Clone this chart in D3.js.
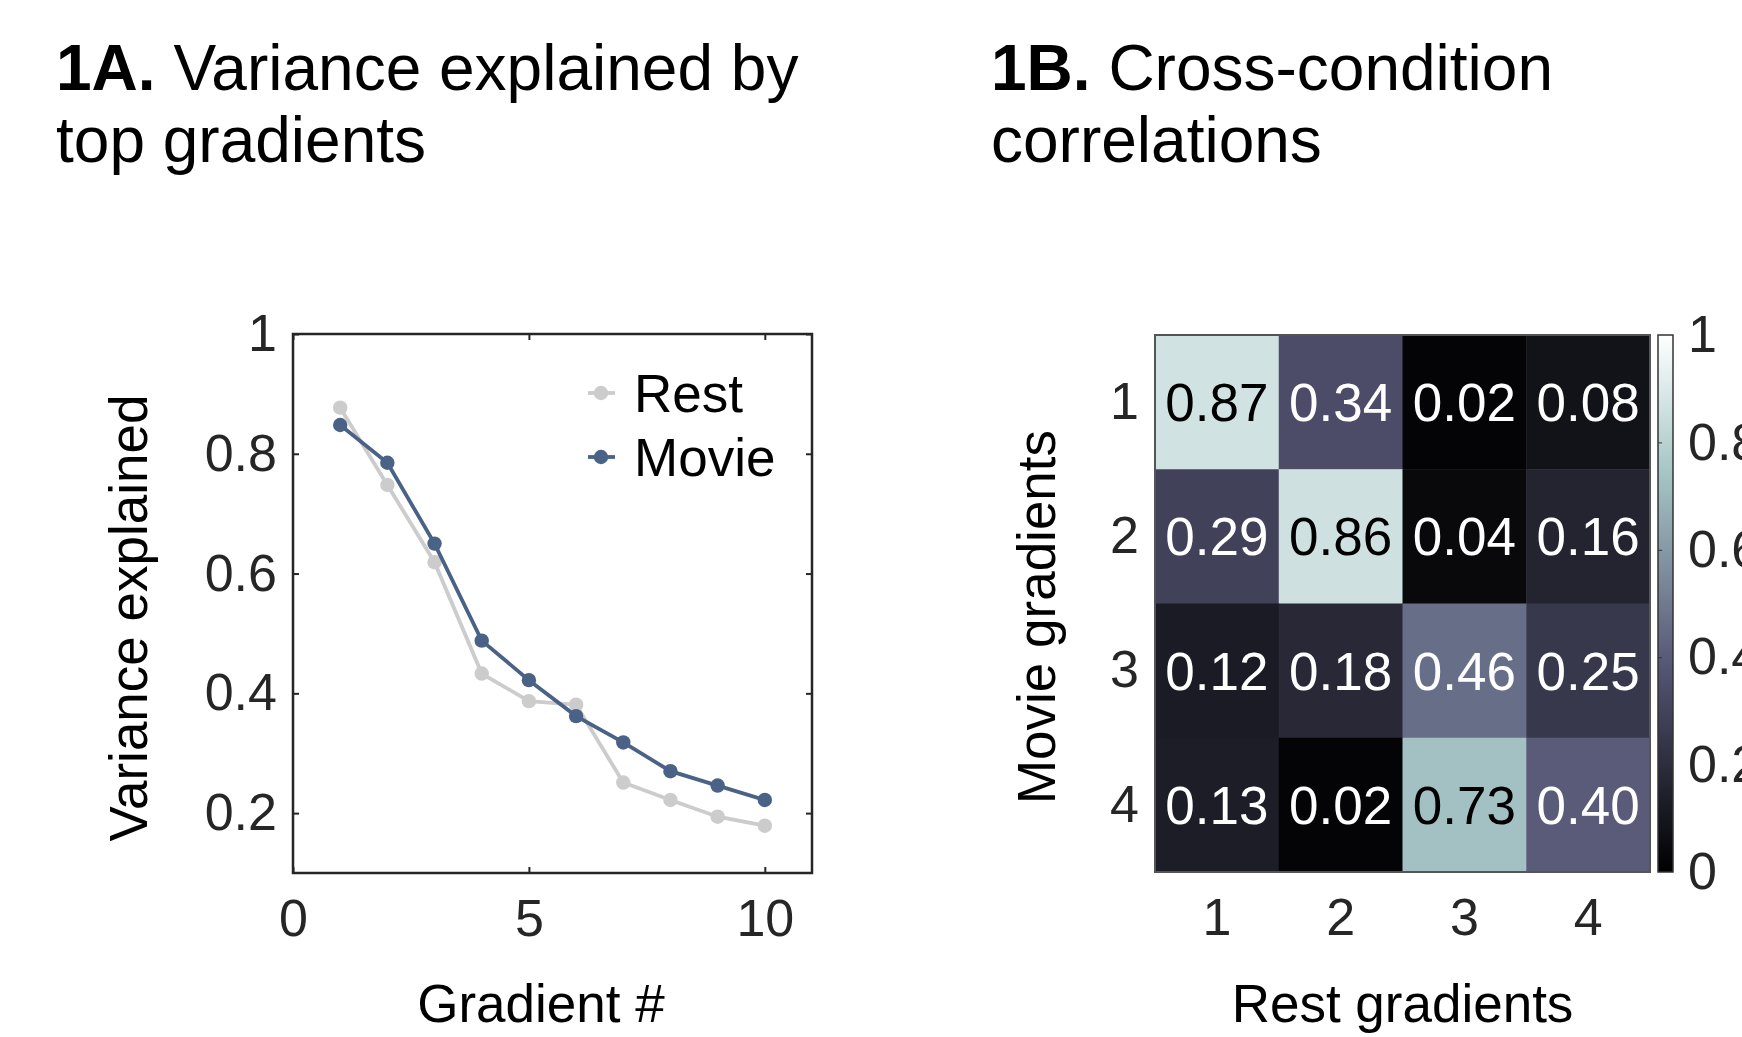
<!DOCTYPE html>
<html>
<head>
<meta charset="utf-8">
<script src="https://cdn.jsdelivr.net/npm/d3@7"></script>
<style>
  body { margin: 0; background: #fff; }
  svg { display: block; font-family: "Liberation Sans", Arial, sans-serif; }
  .tick text { fill: #262626; }
</style>
</head>
<body>
<svg width="1742" height="1037"></svg>
<script>
// panel A data
const gradients = [1, 2, 3, 4, 5, 6, 7, 8, 9, 10]
const restVar = [0.877, 0.748, 0.619, 0.433, 0.387, 0.381, 0.251, 0.222, 0.194, 0.179]
const movieVar = [0.848, 0.785, 0.650, 0.488, 0.422, 0.362, 0.318, 0.270, 0.246, 0.222]
const xTicks = [0, 5, 10]
const yTicks = [0.2, 0.4, 0.6, 0.8, 1]

// panel B data (rows = movie gradients, cols = rest gradients)
const restLabels = ["1", "2", "3", "4"]
const movieLabels = ["1", "2", "3", "4"]
const corr = [
  [0.87, 0.34, 0.02, 0.08],
  [0.29, 0.86, 0.04, 0.16],
  [0.12, 0.18, 0.46, 0.25],
  [0.13, 0.02, 0.73, 0.40]
]
const cbarTicks = [0, 0.2, 0.4, 0.6, 0.8, 1]

const svg = d3.select("svg")
const axisColor = "#262626"

// matlab bone colormap
function bone(t) {
  const hr = Math.min(1, t * 8 / 3),
        hg = Math.max(0, Math.min(1, (t - 3 / 8) * 8 / 3)),
        hb = Math.max(0, Math.min(1, (t - 6 / 8) * 4))
  return d3.rgb(255 * (7 * t + hb) / 8, 255 * (7 * t + hg) / 8, 255 * (7 * t + hr) / 8).formatHex()
}

// titles
function title(x, bold, lines) {
  const t = svg.append("text").attr("x", x).attr("y", 90).style("font-size", "64px").style("fill", "#000")
  t.append("tspan").style("font-weight", "bold").text(bold)
  t.append("tspan").text(" " + lines[0])
  t.append("tspan").attr("x", x).attr("y", 162).text(lines[1])
}
title(56, "1A.", ["Variance explained by", "top gradients"])
title(991, "1B.", ["Cross-condition", "correlations"])

// ---------- panel A ----------
const a = {left: 293, right: 812, top: 334, bottom: 873}
const x = d3.scaleLinear().domain([0, 11]).range([a.left, a.right])
const y = d3.scaleLinear().domain([0.1, 1]).range([a.bottom, a.top])

const gA = svg.append("g")

function styleAxis(sel) {
  sel.select(".domain").remove()
  sel.selectAll(".tick line").attr("stroke", axisColor).attr("stroke-width", 2)
  sel.selectAll(".tick text").style("font-size", "52px")
}

gA.append("g").attr("transform", "translate(0," + a.bottom + ")")
  .call(d3.axisBottom(x).tickValues(xTicks).tickSize(-6).tickPadding(26).tickFormat(d3.format("")))
  .call(styleAxis)
gA.append("g").attr("transform", "translate(0," + a.top + ")")
  .call(d3.axisTop(x).tickValues(xTicks).tickSize(-6).tickFormat(""))
  .call(styleAxis)
gA.append("g").attr("transform", "translate(" + a.left + ",0)")
  .call(d3.axisLeft(y).tickValues(yTicks).tickSize(-6).tickPadding(16).tickFormat(d => d === 1 ? "1" : d3.format(".1f")(d)))
  .call(styleAxis)
gA.append("g").attr("transform", "translate(" + a.right + ",0)")
  .call(d3.axisRight(y).tickValues(yTicks).tickSize(-6).tickFormat(""))
  .call(styleAxis)

gA.append("rect")
  .attr("x", a.left).attr("y", a.top)
  .attr("width", a.right - a.left).attr("height", a.bottom - a.top)
  .attr("fill", "none").attr("stroke", axisColor).attr("stroke-width", 2.5)

const series = [
  {name: "Rest", values: restVar, color: "#cccccc"},
  {name: "Movie", values: movieVar, color: "#4a6285"}
]

const line = d3.line().x((d, i) => x(gradients[i])).y(d => y(d))

series.forEach(function (s) {
  gA.append("path").attr("d", line(s.values))
    .attr("fill", "none").attr("stroke", s.color).attr("stroke-width", 3.8)
  gA.selectAll(null).data(s.values).enter().append("circle")
    .attr("cx", (d, i) => x(gradients[i])).attr("cy", d => y(d))
    .attr("r", 7.2).attr("fill", s.color)
})

// legend
series.forEach(function (s, i) {
  const ly = 393 + i * 64
  gA.append("line").attr("x1", 588).attr("x2", 615).attr("y1", ly).attr("y2", ly)
    .attr("stroke", s.color).attr("stroke-width", 3.8)
  gA.append("circle").attr("cx", 601).attr("cy", ly).attr("r", 7.2).attr("fill", s.color)
  gA.append("text").attr("x", 634).attr("y", ly).attr("dy", "0.35em")
    .style("font-size", "53px").style("fill", "#000").text(s.name)
})

gA.append("text").attr("x", 541).attr("y", 1022).attr("text-anchor", "middle")
  .style("font-size", "53px").style("fill", "#000").text("Gradient #")
gA.append("text").attr("transform", "translate(147,618) rotate(-90)").attr("text-anchor", "middle")
  .style("font-size", "53px").style("fill", "#000").text("Variance explained")

// ---------- panel B ----------
const b = {left: 1155, right: 1650, top: 335, bottom: 872}
const bx = d3.scaleBand().domain(restLabels).range([b.left, b.right])
const by = d3.scaleBand().domain(movieLabels).range([b.top, b.bottom])
const color = d3.scaleSequential(bone).domain([0, 1])

const gB = svg.append("g")

const cells = []
corr.forEach((row, i) => row.forEach((v, j) => cells.push({r: movieLabels[i], c: restLabels[j], v: v})))

gB.selectAll(".cell").data(cells).enter().append("rect")
  .attr("class", "cell")
  .attr("x", d => bx(d.c)).attr("y", d => by(d.r))
  .attr("width", bx.bandwidth() + 0.5).attr("height", by.bandwidth() + 0.5)
  .attr("fill", d => color(d.v))

gB.selectAll(".val").data(cells).enter().append("text")
  .attr("class", "val")
  .attr("x", d => bx(d.c) + bx.bandwidth() / 2)
  .attr("y", d => by(d.r) + by.bandwidth() / 2)
  .attr("dy", "0.36em").attr("text-anchor", "middle")
  .style("font-size", "53px")
  .style("fill", d => d.v > 0.6 ? "#000" : "#fff")
  .text(d => d3.format(".2f")(d.v))

gB.append("rect")
  .attr("x", b.left).attr("y", b.top)
  .attr("width", b.right - b.left).attr("height", b.bottom - b.top)
  .attr("fill", "none").attr("stroke", "#555").attr("stroke-width", 2)

gB.append("g").attr("transform", "translate(0," + b.bottom + ")")
  .call(d3.axisBottom(bx).tickSize(0).tickPadding(26))
  .call(styleAxis)
gB.append("g").attr("transform", "translate(" + b.left + ",0)")
  .call(d3.axisLeft(by).tickSize(0).tickPadding(16))
  .call(styleAxis)

gB.append("text").attr("x", (b.left + b.right) / 2).attr("y", 1022).attr("text-anchor", "middle")
  .style("font-size", "53px").style("fill", "#000").text("Rest gradients")
gB.append("text").attr("transform", "translate(1055,617) rotate(-90)").attr("text-anchor", "middle")
  .style("font-size", "53px").style("fill", "#000").text("Movie gradients")

// colorbar
const cb = {left: 1658, width: 15}
const cy = d3.scaleLinear().domain([0, 1]).range([b.bottom, b.top])

const grad = svg.append("defs").append("linearGradient").attr("id", "bone")
  .attr("x1", 0).attr("y1", 1).attr("x2", 0).attr("y2", 0)
d3.range(0, 1.0001, 0.05).forEach(t => {
  grad.append("stop").attr("offset", t).attr("stop-color", bone(t))
})

gB.append("rect").attr("x", cb.left).attr("y", b.top)
  .attr("width", cb.width).attr("height", b.bottom - b.top)
  .attr("fill", "url(#bone)").attr("stroke", "#333").attr("stroke-width", 1.5)

gB.append("g").attr("transform", "translate(" + (cb.left + cb.width) + ",0)")
  .call(d3.axisRight(cy).tickValues(cbarTicks).tickSize(0).tickPadding(15).tickFormat(d => d === 0 || d === 1 ? d : d3.format(".1f")(d)))
  .call(styleAxis)
gB.append("g").attr("transform", "translate(" + cb.left + ",0)")
  .call(d3.axisRight(cy).tickValues(cbarTicks.slice(1, -1)).tickSize(4).tickFormat(""))
  .call(g => g.select(".domain").remove())
  .call(g => g.selectAll(".tick line").attr("stroke", "#333"))
</script>
</body>
</html>
